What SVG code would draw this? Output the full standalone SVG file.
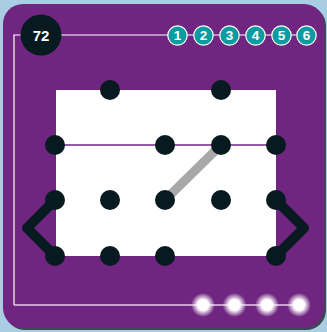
<svg xmlns="http://www.w3.org/2000/svg" width="327" height="332" viewBox="0 0 327 332">
<style>
.dot{fill:#061a20}
.num{fill:#0b9ba1;stroke:#fff;stroke-width:1.2}
.numt{fill:#fff;font-family:"Liberation Sans",Arial,sans-serif;font-weight:bold;font-size:13.5px;text-anchor:middle}
.chev{fill:none;stroke:#061a20;stroke-width:10;stroke-linejoin:round;stroke-linecap:round}
</style>
<defs>
<radialGradient id="glow">
<stop offset="0" stop-color="#fff"/>
<stop offset="0.45" stop-color="#fff"/>
<stop offset="1" stop-color="#fff" stop-opacity="0"/>
</radialGradient>
</defs>
<rect width="327" height="332" fill="#a9cde3"/>
<rect x="5" y="6" width="321" height="324" rx="20" fill="#3a4a4e"/>
<rect x="3" y="4" width="321" height="324" rx="20" fill="#702681"/>
<g id="frame" fill="none">
<polyline points="306,35 14,35 14,305" stroke="#fff" stroke-width="1.2"/>
<line x1="14" y1="305" x2="300" y2="305" stroke="#e8c8ee" stroke-width="1.5"/>
</g>
<rect id="board" x="56" y="90" width="220" height="166" fill="#fff"/>
<g id="connectors">
<line x1="55" y1="145" x2="276" y2="145" stroke="#702681" stroke-width="1.5"/>
<line x1="165" y1="200" x2="221" y2="145" stroke="#a8a8a8" stroke-width="9"/>
<polyline class="chev" points="55,200 27,228 55,256"/>
<polyline class="chev" points="276,200 304,228 276,256"/>
</g>
<g id="dots">
<circle class="dot" cx="110" cy="90" r="10"/>
<circle class="dot" cx="221" cy="90" r="10"/>
<circle class="dot" cx="55" cy="145" r="10"/>
<circle class="dot" cx="165" cy="145" r="10"/>
<circle class="dot" cx="221" cy="145" r="10"/>
<circle class="dot" cx="276" cy="145" r="10"/>
<circle class="dot" cx="55" cy="200" r="10"/>
<circle class="dot" cx="110" cy="200" r="10"/>
<circle class="dot" cx="165" cy="200" r="10"/>
<circle class="dot" cx="221" cy="200" r="10"/>
<circle class="dot" cx="276" cy="200" r="10"/>
<circle class="dot" cx="55" cy="256" r="10"/>
<circle class="dot" cx="110" cy="256" r="10"/>
<circle class="dot" cx="165" cy="256" r="10"/>
<circle class="dot" cx="276" cy="256" r="10"/>
</g>
<g id="level">
<circle cx="41" cy="35" r="20.5" fill="#061a20"/>
<text x="41" y="40.5" fill="#fff" font-family="'Liberation Sans',Arial,sans-serif" font-weight="bold" font-size="15" text-anchor="middle">72</text>
</g>
<g id="steps">
<g id="s1"><circle class="num" cx="177.5" cy="35.5" r="9.7"/><text class="numt" x="177.5" y="40.3">1</text></g>
<g id="s2"><circle class="num" cx="203.5" cy="35.5" r="9.7"/><text class="numt" x="203.5" y="40.3">2</text></g>
<g id="s3"><circle class="num" cx="229.5" cy="35.5" r="9.7"/><text class="numt" x="229.5" y="40.3">3</text></g>
<g id="s4"><circle class="num" cx="255.5" cy="35.5" r="9.7"/><text class="numt" x="255.5" y="40.3">4</text></g>
<g id="s5"><circle class="num" cx="281.5" cy="35.5" r="9.7"/><text class="numt" x="281.5" y="40.3">5</text></g>
<g id="s6"><circle class="num" cx="306.5" cy="35.5" r="9.7"/><text class="numt" x="306.5" y="40.3">6</text></g>
</g>
<g id="lights" fill="url(#glow)">
<circle cx="203" cy="305" r="12"/>
<circle cx="234.5" cy="305" r="12"/>
<circle cx="267" cy="305" r="12"/>
<circle cx="299" cy="305" r="12"/>
</g>
</svg>
